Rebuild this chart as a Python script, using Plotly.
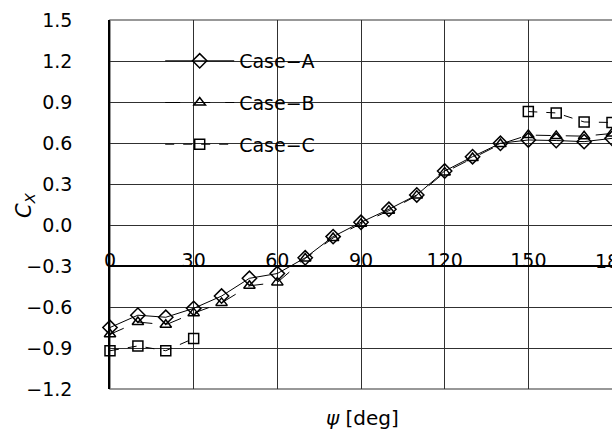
import plotly.graph_objects as go

psi = [0, 10, 20, 30, 40, 50, 60, 70, 80, 90, 100, 110, 120, 130, 140, 150, 160, 170, 180]
case_a = [-0.75, -0.66, -0.675, -0.61, -0.52, -0.39, -0.355, -0.24, -0.085, 0.02, 0.115, 0.22,
          0.395, 0.50, 0.598, 0.622, 0.618, 0.61, 0.634]
case_b = [-0.80, -0.71, -0.73, -0.645, -0.57, -0.445, -0.42, -0.245, -0.095, 0.01, 0.105, 0.215,
          0.385, 0.49, 0.592, 0.658, 0.652, 0.65, 0.67]
case_c = [-0.92, -0.885, -0.92, -0.83, None, None, None, None, None, None, None, None,
          None, None, None, 0.83, 0.82, 0.754, 0.75]

x_ticks = [0, 30, 60, 90, 120, 150, 180]
y_ticks = [-1.2, -0.9, -0.6, -0.3, 0.0, 0.3, 0.6, 0.9, 1.2, 1.5]

FONT = "DejaVu Sans"
fig = go.Figure()

series = [
    ("Case\u2212A", case_a, "diamond-open", "solid", 11),
    ("Case\u2212B", case_b, "triangle-up-open", "longdash", 10),
    ("Case\u2212C", case_c, "square-open", "dash", 10),
]
for i, (name, vals, sym, dash, sz) in enumerate(series):
    fig.add_trace(go.Scatter(
        x=psi, y=vals, name=name, mode="lines+markers",
        line=dict(color="black", width=1, dash=dash),
        marker=dict(symbol=sym, size=sz, color="black", line=dict(color="black", width=1.5)),
        legendgroup=f"g{i}", cliponaxis=False, connectgaps=False,
    ))
# empty helper trace so the label axis is instantiated
fig.add_trace(go.Scatter(x=[], y=[], xaxis="x2", yaxis="y", showlegend=False, hoverinfo="skip"))

GRID = "#303030"
XR = [0, 180]
LBL_Y = (389 - 261) / 369  # paper y of x tick label centres

fig.update_layout(
    width=612, height=429,
    margin=dict(l=110, r=0, t=20, b=40),
    paper_bgcolor="white", plot_bgcolor="white",
    font=dict(family=FONT, size=19, color="black"),
    showlegend=True,
    legend=dict(
        x=0.100, y=0.9405, xanchor="left", yanchor="top",
        bgcolor="rgba(0,0,0,0)", borderwidth=0,
        font=dict(family=FONT, size=19, color="black"),
        tracegroupgap=14, itemwidth=69,
    ),
    xaxis=dict(
        range=XR, side="top", anchor="free", position=1/3,
        tickvals=x_ticks, showticklabels=False,
        showline=True, linecolor="black", linewidth=1.5,
        showgrid=True, gridcolor=GRID, gridwidth=1,
        zeroline=False, ticks="",
    ),
    xaxis2=dict(
        range=XR, overlaying="x", side="top", anchor="free", position=1/3 - 5/369,
        tickvals=x_ticks[:-1], ticktext=[str(v) for v in x_ticks[:-1]],
        showline=False, showgrid=False, zeroline=False, ticks="",
        tickfont=dict(family=FONT, size=19),
    ),
    yaxis=dict(
        range=[-1.2, 1.5], tickvals=y_ticks, tickformat=".1f",
        showline=True, linecolor="black", linewidth=1.5,
        showgrid=True, gridcolor=GRID, gridwidth=1,
        zeroline=False, ticks="", ticklabelstandoff=32, tickfont=dict(family=FONT, size=19),
    ),
    shapes=[
        dict(type="rect", xref="paper", yref="paper",
             x0=(137 - 110) / 502, x1=(335 - 110) / 502,
             y0=(389 - 167) / 369, y1=(389 - 34) / 369,
             fillcolor="white", line=dict(width=0), layer="between"),
        dict(type="rect", xref="paper", yref="paper", x0=0, x1=1.01, y0=0, y1=1,
             line=dict(color="#777777", width=1.5), layer="below"),
    ],
    annotations=[
        dict(text=str(x_ticks[-1]), x=(613 - 110) / 502, y=LBL_Y, xref="paper", yref="paper",
             xanchor="center", yanchor="middle", showarrow=False, font=dict(family=FONT, size=19)),
        dict(text="<i>C<sub>X</sub></i>", x=(10 - 110) / 502, y=(389 - 205) / 369,
             xref="paper", yref="paper",
             textangle=-90, showarrow=False, font=dict(family=FONT, size=21)),
        dict(text="<i>\u03c8</i> [deg]", x=(362 - 110) / 502, y=-(432 - 389) / 369,
             xref="paper", yref="paper", showarrow=False, font=dict(family=FONT, size=20)),
    ],
)

fig.write_html("out.html")
